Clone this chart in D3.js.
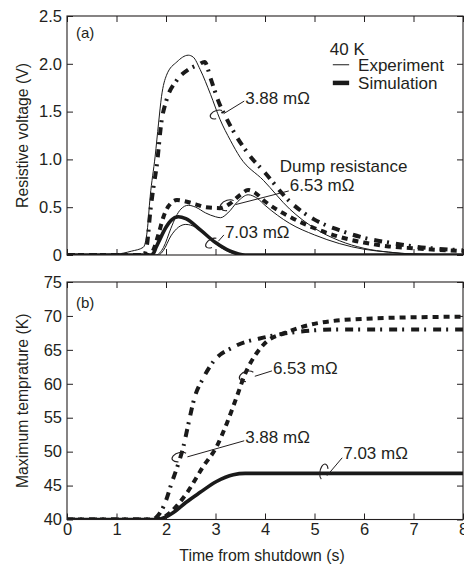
<!DOCTYPE html>
<html>
<head>
<meta charset="utf-8">
<script src="https://cdn.jsdelivr.net/npm/d3@7"></script>
<style>
  body { margin: 0; background: #fff; }
  svg { display: block; font-family: "Liberation Sans", Arial, sans-serif; }
  .axis text { font-size: 16.5px; fill: #231f20; }
  .axis line { stroke: #231f20; }
  .axis .domain { display: none; }
  .title { font-size: 15.8px; fill: #231f20; }
  .note { font-size: 17px; fill: #231f20; }
  .tag { font-size: 15px; fill: #231f20; }
</style>
</head>
<body>
<div id="chart"></div>
<script>
// time axis ticks
const timeTicks = [0, 1, 2, 3, 4, 5, 6, 7, 8];
const voltTicks = [0, 0.5, 1.0, 1.5, 2.0, 2.5];
const tempTicks = [40, 45, 50, 55, 60, 65, 70, 75];

// (a) resistive voltage, 3.88 mOhm
const tExp388 = [0, 1.0, 1.3, 1.54, 1.62, 1.68, 1.78, 1.85, 1.91, 2.01, 2.22, 2.45, 2.55, 2.69, 2.9, 3.09, 3.3, 3.5, 3.97, 4.5, 5.0, 5.5, 6.0, 6.5, 7.0, 8.0];
const vExp388 = [0, 0.01, 0.04, 0.08, 0.25, 0.61, 1.03, 1.38, 1.66, 1.88, 2.02, 2.09, 2.07, 1.94, 1.68, 1.42, 1.2, 1.02, 0.78, 0.48, 0.28, 0.15, 0.07, 0.03, 0.01, 0];
const tSim388 = [0, 1.55, 1.62, 1.68, 1.75, 1.81, 1.91, 2.01, 2.22, 2.45, 2.65, 2.78, 2.9, 3.05, 3.25, 3.66, 4.0, 4.5, 5.0, 5.5, 6.0, 6.5, 7.0, 8.0];
const vSim388 = [0, 0, 0.12, 0.44, 0.72, 0.92, 1.4, 1.62, 1.83, 1.94, 1.99, 2.02, 1.85, 1.62, 1.40, 1.06, 0.86, 0.56, 0.37, 0.26, 0.18, 0.13, 0.09, 0.05];

// (a) 6.53 mOhm
const tExp653 = [0, 1.8, 1.95, 2.1, 2.2, 2.3, 2.45, 2.6, 2.8, 3.0, 3.1, 3.25, 3.45, 3.66, 3.85, 4.0, 4.5, 5.0, 5.5, 6.0, 6.5, 7.0, 8.0];
const vExp653 = [0, 0, 0.08, 0.28, 0.40, 0.48, 0.52, 0.50, 0.44, 0.40, 0.39, 0.44, 0.56, 0.63, 0.59, 0.52, 0.33, 0.21, 0.12, 0.06, 0.03, 0.01, 0];
const tSim653 = [0, 1.65, 1.75, 1.85, 1.95, 2.05, 2.22, 2.4, 2.6, 2.8, 3.09, 3.3, 3.5, 3.66, 3.8, 4.0, 4.5, 5.0, 5.5, 6.0, 6.5, 7.0, 8.0];
const vSim653 = [0, 0, 0.06, 0.22, 0.40, 0.51, 0.575, 0.56, 0.53, 0.5, 0.49, 0.54, 0.63, 0.68, 0.65, 0.56, 0.40, 0.28, 0.19, 0.13, 0.09, 0.07, 0.04];

// (a) 7.03 mOhm
const tExp703 = [0, 1.85, 1.95, 2.1, 2.25, 2.4, 2.6, 2.8, 3.0, 3.2, 3.4, 3.6, 8];
const vExp703 = [0, 0, 0.05, 0.2, 0.29, 0.32, 0.29, 0.21, 0.12, 0.05, 0.01, 0, 0];
const tSim703 = [0, 1.7, 1.75, 1.8, 1.9, 2.0, 2.1, 2.25, 2.4, 2.7, 3.0, 3.3, 3.6, 8];
const vSim703 = [0, 0, 0.02, 0.08, 0.19, 0.29, 0.36, 0.40, 0.38, 0.26, 0.13, 0.04, 0, 0];

// (b) maximum temperature, simulation
const tTemp388 = [0, 1.7, 1.8, 1.9, 2.0, 2.11, 2.23, 2.35, 2.45, 2.57, 2.75, 2.96, 3.36, 4.03, 4.71, 5.5, 8];
const kTemp388 = [40, 40, 40.3, 41.2, 42.8, 45.3, 47.8, 50.7, 54.0, 57.8, 60.8, 63.3, 65.4, 66.9, 67.7, 68.0, 68.0];
const tTemp653 = [0, 1.8, 1.95, 2.08, 2.42, 2.75, 3.02, 3.23, 3.43, 3.6, 3.83, 4.03, 4.37, 5.04, 6.06, 8];
const kTemp653 = [40, 40, 40.3, 41.0, 43.9, 47.8, 50.7, 54.2, 58.1, 61.5, 64.5, 66.2, 67.4, 68.9, 69.6, 69.9];
const tTemp703 = [0, 1.8, 2.0, 2.2, 2.4, 2.69, 3.02, 3.36, 3.6, 8];
const kTemp703 = [40, 40, 40.4, 41.3, 42.5, 44.0, 45.6, 46.6, 46.8, 46.8];

// annotations in data units: [text, t, value, class]
const notesA = [
  ["(a)", 0.18, 2.32, "tag"],
  ["40 K", 5.31, 2.15, "note"],
  ["3.88 mΩ", 3.6, 1.64, "note"],
  ["Dump resistance", 4.3, 0.93, "note"],
  ["6.53 mΩ", 4.5, 0.73, "note"],
  ["7.03 mΩ", 3.19, 0.24, "note"],
];
// leader: [from t, from v, loop t, loop v, rx, ry, rotation]
const leadersA = [
  [3.58, 1.61, 3.03, 1.47, 7, 4, -20],
  [4.48, 0.67, 3.25, 0.52, 8, 5, -20],
  [3.17, 0.21, 2.93, 0.125, 7, 4, -30],
];
const notesB = [
  ["(b)", 0.18, 72.0, "tag"],
  ["6.53 mΩ", 4.16, 62.3, "note"],
  ["3.88 mΩ", 3.6, 52.2, "note"],
  ["7.03 mΩ", 5.58, 49.8, "note"],
];
const leadersB = [
  [4.14, 61.9, 3.64, 61.1, 8, 5, -15],
  [3.58, 51.6, 2.28, 49.2, 8, 4.5, -15],
  [5.56, 49.1, 5.19, 47.0, 4, 8, 10],
];

const width = 464, height = 566;
const svg = d3.select("#chart").append("svg").attr("width", width).attr("height", height);

const x = d3.scaleLinear().domain([0, 8]).range([67, 463]);
const yV = d3.scaleLinear().domain([0, 2.5]).range([255, 16]);
const yT = d3.scaleLinear().domain([40, 75]).range([519.5, 282]);

const styles = {
  exp: { w: 1, dash: null },
  solid: { w: 3.6, dash: null },
  dashed: { w: 4, dash: "6,5" },
  dashdot: { w: 4, dash: "8,5,2,7" },
};

const seriesA = [
  { t: tExp388, v: vExp388, s: "exp" },
  { t: tExp653, v: vExp653, s: "exp" },
  { t: tExp703, v: vExp703, s: "exp" },
  { t: tSim703, v: vSim703, s: "solid" },
  { t: tSim653, v: vSim653, s: "dashed" },
  { t: tSim388, v: vSim388, s: "dashdot" },
];
const seriesB = [
  { t: tTemp703, v: kTemp703, s: "solid" },
  { t: tTemp653, v: kTemp653, s: "dashed" },
  { t: tTemp388, v: kTemp388, s: "dashdot" },
];

function panel(y, ticks, fmt, showX, series, notes, leaders, id) {
  const g = svg.append("g");
  const [y0, y1] = y.range();

  g.append("clipPath").attr("id", id)
    .append("rect").attr("x", x(0)).attr("y", y1).attr("width", x(8) - x(0)).attr("height", y0 - y1);

  const line = d3.line().x((d) => x(d[0])).y((d) => y(d[1])).curve(d3.curveMonotoneX);

  g.append("g").attr("clip-path", `url(#${id})`)
    .selectAll("path")
    .data(series)
    .join("path")
    .attr("d", (d) => line(d.t.map((t, i) => [t, d.v[i]])))
    .attr("fill", "none")
    .attr("stroke", "#1a1a1a")
    .attr("stroke-width", (d) => styles[d.s].w)
    .attr("stroke-dasharray", (d) => styles[d.s].dash);

  g.append("g").attr("class", "axis")
    .attr("transform", `translate(${x(0)},0)`)
    .call(d3.axisLeft(y).tickValues(ticks).tickFormat(fmt).tickSize(-6).tickPadding(5));
  g.append("g").attr("class", "axis")
    .attr("transform", `translate(${x(8)},0)`)
    .call(d3.axisRight(y).tickValues(ticks).tickFormat("").tickSize(-6));
  g.append("g").attr("class", "axis")
    .attr("transform", `translate(0,${y1})`)
    .call(d3.axisTop(x).tickValues(timeTicks).tickFormat("").tickSize(-6));
  g.append("g").attr("class", "axis")
    .attr("transform", `translate(0,${y0})`)
    .call(d3.axisBottom(x).tickValues(timeTicks).tickFormat(showX ? d3.format("d") : "").tickSize(-6).tickPadding(4));

  g.append("rect")
    .attr("x", x(0)).attr("y", y1)
    .attr("width", x(8) - x(0)).attr("height", y0 - y1)
    .attr("fill", "none").attr("stroke", "#231f20").attr("stroke-width", 1.1);

  g.selectAll("text.lbl")
    .data(notes)
    .join("text")
    .attr("class", (d) => "lbl " + d[3])
    .attr("x", (d) => x(d[1]))
    .attr("y", (d) => y(d[2]))
    .attr("dy", "0.35em")
    .text((d) => d[0]);

  leaders.forEach(([ft, fv, lt, lv, rx, ry, rot]) => {
    const cx = x(lt), cy = y(lv);
    const a = (rot * Math.PI) / 180;
    const pt = (ang) => {
      const px = rx * Math.cos(ang), py = ry * Math.sin(ang);
      return [cx + px * Math.cos(a) - py * Math.sin(a), cy + px * Math.sin(a) + py * Math.cos(a)];
    };
    const s = pt(-0.5), e = pt(1.9);
    const p = d3.path();
    p.moveTo(x(ft), y(fv));
    p.lineTo(...pt(0.4));
    g.append("path").attr("d", p.toString()).attr("fill", "none").attr("stroke", "#231f20").attr("stroke-width", 1);
    g.append("path")
      .attr("d", `M${s[0]},${s[1]} A${rx},${ry} ${rot} 1 0 ${e[0]},${e[1]}`)
      .attr("fill", "none").attr("stroke", "#231f20").attr("stroke-width", 1.1);
  });
  return g;
}

const gA = panel(yV, voltTicks, (d) => (d === 0 ? "0" : d3.format(".1f")(d)), false, seriesA, notesA, leadersA, "clipA");
const gB = panel(yT, tempTicks, d3.format("d"), true, seriesB, notesB, leadersB, "clipB");

// legend in panel (a)
const legend = [
  ["Experiment", 1.99, "exp"],
  ["Simulation", 1.80, "solid"],
];
legend.forEach(([label, v, s]) => {
  gA.append("line")
    .attr("x1", x(5.37)).attr("x2", x(5.7))
    .attr("y1", yV(v)).attr("y2", yV(v))
    .attr("stroke", "#1a1a1a").attr("stroke-width", s === "exp" ? 1 : 4.5);
  gA.append("text").attr("class", "note")
    .attr("x", x(5.88)).attr("y", yV(v)).attr("dy", "0.35em").text(label);
});

// axis titles
svg.append("text").attr("class", "title")
  .attr("transform", `translate(22,${(yV.range()[0] + yV.range()[1]) / 2}) rotate(-90)`)
  .attr("text-anchor", "middle").attr("dy", "0.35em")
  .text("Resistive voltage (V)");
svg.append("text").attr("class", "title")
  .attr("transform", `translate(22,${(yT.range()[0] + yT.range()[1]) / 2}) rotate(-90)`)
  .attr("text-anchor", "middle").attr("dy", "0.35em")
  .text("Maximum temprature (K)");
svg.append("text").attr("class", "title")
  .attr("x", 262).attr("y", 555).attr("dy", "0.35em")
  .attr("text-anchor", "middle")
  .text("Time from shutdown (s)");
</script>
</body>
</html>
